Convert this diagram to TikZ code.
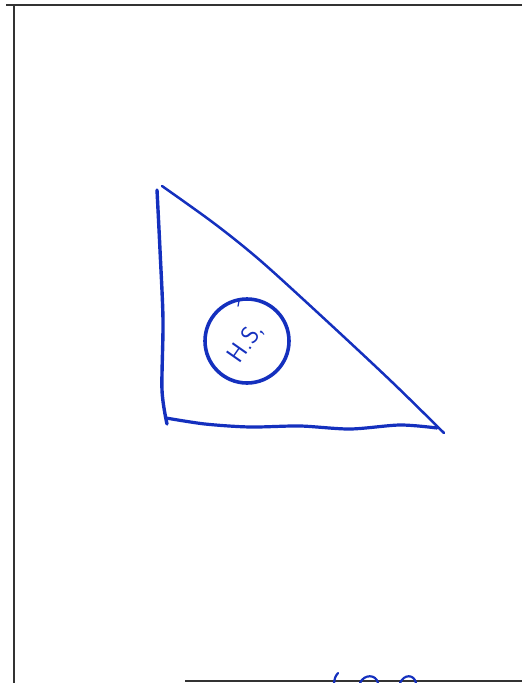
\documentclass[tikz,border=0pt]{standalone}
\usepackage{xcolor}
\usepackage{tikz}
\usetikzlibrary{positioning,calc}
\definecolor{penblue}{RGB}{20,48,190}

\begin{document}
\begin{tikzpicture}[x=1pt, y=-1pt,
    pen/.style={draw=penblue, line width=2.6pt, line cap=round, line join=round},
    frameline/.style={draw=black!80, line width=1.4pt}]
  \useasboundingbox (0,0) rectangle (522,683);

  % Page frame (open on the right)
  \coordinate (ftl) at (14,5);
  \coordinate (ftr) at (522,5);
  \coordinate (fbl) at (14,683);
  \coordinate (fb1) at (185,681);
  \coordinate (fb2) at (522,681);
  \draw[frameline] (6,5) -- (ftr);
  \draw[frameline] (ftl) -- (fbl);
  \draw[frameline] (fb1) -- (fb2);

  % Triangle corners
  \coordinate (top) at (157,190);
  \coordinate (corner) at (167,424);
  \coordinate (tip) at (444,433);

  % Left side
  \draw[pen, line width=3.4pt] plot[smooth] coordinates {(top) (160,250) (163,320) (162,390) (corner)};
  % Hypotenuse
  \draw[pen, line width=2.5pt] plot[smooth] coordinates {(162,186) (215,224) (262,262) (330,324) (392,382) (tip)};
  % Base
  \draw[pen, line width=3.2pt] plot[smooth] coordinates {(166,418) (205,424) (250,427) (300,426) (350,429) (400,425) (437,428)};

  % Circle with initials
  \node[pen, line width=3.6pt, circle, minimum size=84pt, inner sep=0pt] (hs) at (247,341) {};
  \node[text=penblue, font=\sffamily\fontsize{25}{25}\selectfont, rotate=55, inner sep=0pt] (hslabel) at (246,343) {H.S,};
  \draw[pen, line width=1.2pt] ($(hs.north)+(-8,4)$) -- ($(hs.north)+(-9,9)$);

  % Cut-off writing at the bottom edge
  \draw[pen, line width=2.2pt] (338,673) .. controls (335,677) .. (334,683);
  \draw[pen, line width=2.2pt] (360,683) .. controls (364,674) and (376,674) .. (378,683);
  \draw[pen, line width=2.2pt] (400,683) .. controls (404,674) and (414,674) .. (416,683);
\end{tikzpicture}
\end{document}
